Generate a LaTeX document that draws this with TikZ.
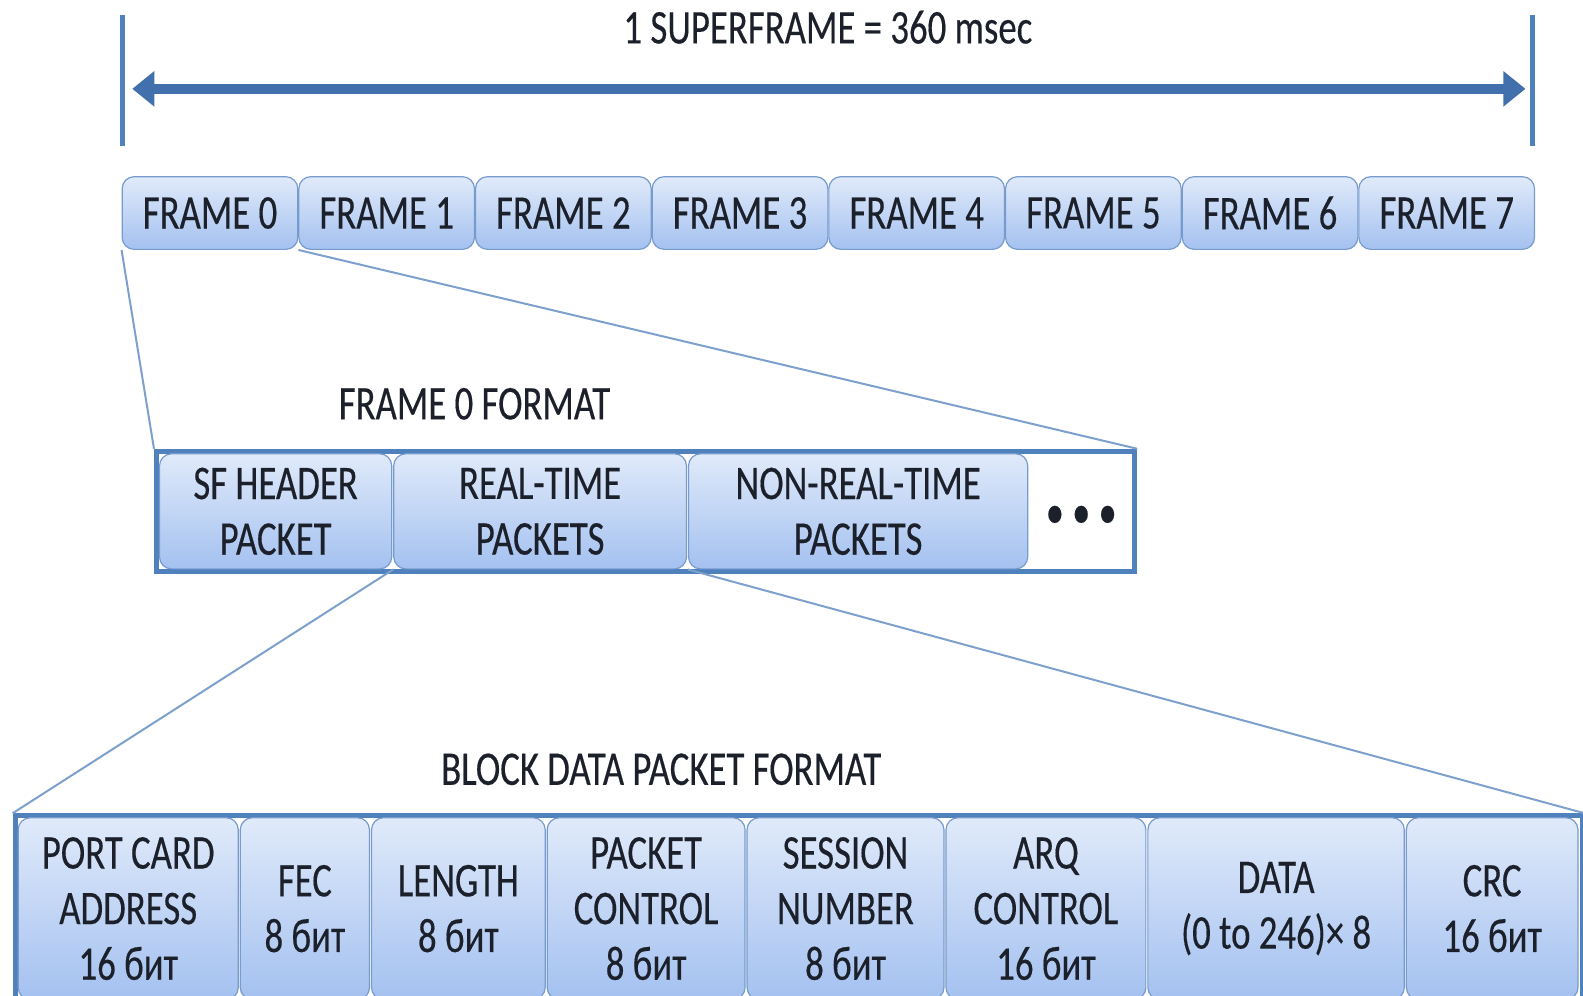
\documentclass[tikz,border=0pt]{standalone}
\usepackage{fontspec}
\setmainfont[FakeStretch=0.76,FakeBold=0.3]{Carlito}
\usetikzlibrary{arrows.meta}
\newlength\px
\setlength\px{0.5048pt}
\definecolor{barblue}{RGB}{79,129,189}
\definecolor{arrowblue}{RGB}{66,112,172}
\definecolor{celltop}{RGB}{224,234,250}
\definecolor{cellbot}{RGB}{164,193,240}
\definecolor{cellline}{RGB}{120,155,205}
\definecolor{zoomblue}{RGB}{125,160,205}
\definecolor{txt}{RGB}{28,32,42}

\begin{document}
\begin{tikzpicture}
  [x=0.5048pt,y=-0.5048pt,
   every node/.style={text=txt,font=\fontsize{24.2}{27.8}\selectfont},
   cell/.style={draw=cellline,line width=0.6pt,rounded corners=6pt,
     top color=celltop,bottom color=cellbot,inner sep=0pt,align=center},
   outer/.style={draw=barblue,line width=2.5pt,fill=white,inner sep=0pt},
   zoomline/.style={draw=zoomblue,line width=1pt},
   bar/.style={draw=barblue,line width=2.5pt}]
  \useasboundingbox (0,0) rectangle (1568,986);

  % superframe
  \node (sftitle) at (820,27) {1 SUPERFRAME = 360 msec};
  \coordinate (l1) at (121,15);
  \coordinate (l2) at (121,145);
  \coordinate (r1) at (1518,15);
  \coordinate (r2) at (1518,145);
  \coordinate (al) at (131,88);
  \coordinate (ar) at (1511,88);
  \draw[bar] (l1) -- (l2);
  \draw[bar] (r1) -- (r2);
  \draw[arrowblue,line width=5pt,
    {Triangle[length=11pt,width=17pt]}-{Triangle[length=11pt,width=17pt]}] (al) -- (ar);

  \foreach \i in {0,...,7}
    \node[cell,minimum width=174\px,minimum height=72\px] (f\i) at (208+175*\i,211) {FRAME \i};

  % frame 0 format
  \node (fmttitle) at (470,400) {FRAME 0 FORMAT};
  \node[outer,minimum width=969\px,minimum height=119\px] (fmt) at (639.5,506.5) {};
  \node[cell,minimum width=230\px,minimum height=114\px] (sf) at (273,506.5) {SF HEADER\\PACKET};
  \node[cell,minimum width=290\px,minimum height=114\px] (rt) at (535,506.5) {REAL-TIME\\PACKETS};
  \node[cell,minimum width=336\px,minimum height=114\px] (nrt) at (850,506.5) {NON-REAL-TIME\\PACKETS};
  \node (dots) at (1071,512) {\textbullet\,\textbullet\,\textbullet};

  % block data packet format
  \node (blktitle) at (655,762) {BLOCK DATA PACKET FORMAT};
  \node[outer,minimum width=1552\px,minimum height=186\px] (blk) at (791,901) {};
  \foreach \n/\cx/\w/\t in {pca/127/218/{PORT CARD\\ADDRESS\\16 бит},
      fec/302/128/{FEC\\8 бит},
      len/454/172/{LENGTH\\8 бит},
      pc/640/196/{PACKET\\CONTROL\\8 бит},
      sn/837.5/195/{SESSION\\NUMBER\\8 бит},
      arq/1036/198/{ARQ\\CONTROL\\16 бит},
      dat/1264/254/{DATA\\(0 to 246)× 8},
      crc/1478/170/{CRC\\16 бит}}
    \node[cell,minimum width=\w\px,minimum height=180\px] (\n) at (\cx,900) {\t};

  \foreach \from/\to in {f0.south west/fmt.north west,f0.south east/fmt.north east,
      rt.south west/blk.north west,nrt.south west/blk.north east}
    \draw[zoomline] (\from) -- (\to);

\end{tikzpicture}
\end{document}
